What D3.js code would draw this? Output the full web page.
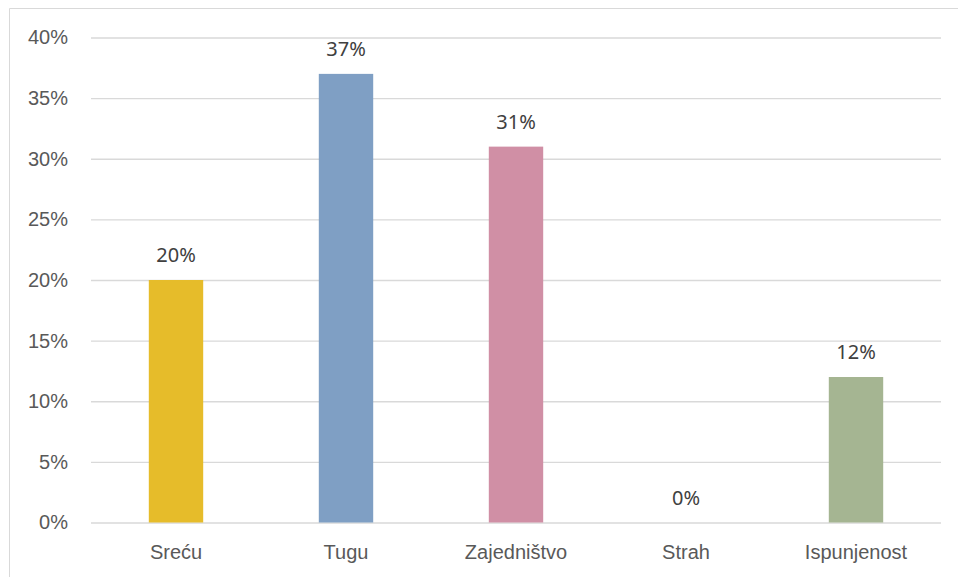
<!DOCTYPE html>
<html>
<head>
<meta charset="utf-8">
<script src="https://cdn.jsdelivr.net/npm/d3@7"></script>
<style>
  body { margin: 0; background: #fff; }
  svg { display: block; }
</style>
</head>
<body>
<div class="chart"></div>
<script>
// data
const categories = ["Sreću", "Tugu", "Zajedništvo", "Strah", "Ispunjenost"];
const values = [0.20, 0.37, 0.31, 0.00, 0.12];
const barColors = ["#E6BC2A", "#7F9FC4", "#D08FA5", "#A9A9A9", "#A5B592"];
const yTicks = [0, 0.05, 0.10, 0.15, 0.20, 0.25, 0.30, 0.35, 0.40];

const W = 958, H = 577;
const margin = {top: 37.5, right: 17, bottom: 54.5, left: 91};
const width = W - margin.left - margin.right,
      height = H - margin.top - margin.bottom;

const svg = d3.select(".chart").append("svg")
    .attr("width", W)
    .attr("height", H)
    .style("font-family", "'Noto Sans', 'Open Sans', sans-serif");

// outer frame (only top and left edges show in the picture)
svg.append("path")
    .attr("d", "M9.5," + H + "V8.5H" + W)
    .attr("fill", "none")
    .attr("stroke", "#d9d9d9")
    .attr("stroke-width", 1);

const g = svg.append("g")
    .attr("transform", "translate(" + margin.left + "," + margin.top + ")");

const x = d3.scaleBand()
    .domain(categories)
    .range([0, width])
    .paddingInner(0.68)
    .paddingOuter(0.34);

const y = d3.scaleLinear()
    .domain([0, 0.40])
    .range([height, 0]);

// gridlines + y labels
const yAxis = g.append("g")
    .call(d3.axisLeft(y)
      .tickValues(yTicks)
      .tickSize(-width)
      .tickPadding(23)
      .tickFormat(d3.format(".0%")));
yAxis.select(".domain").remove();
yAxis.selectAll(".tick line")
    .attr("stroke", "#d9d9d9")
    .attr("stroke-width", 1.3);
yAxis.selectAll(".tick text")
    .attr("fill", "#595959")
    .style("font-size", "20px");

// x labels
const xAxis = g.append("g")
    .attr("transform", "translate(0," + height + ")")
    .call(d3.axisBottom(x).tickSize(0).tickPadding(22));
xAxis.select(".domain").remove();
xAxis.selectAll(".tick text")
    .attr("fill", "#595959")
    .style("font-size", "20px");

// bars
g.selectAll("rect.bar")
    .data(values)
    .enter()
    .append("rect")
      .attr("class", "bar")
      .attr("x", (d, i) => x(categories[i]))
      .attr("y", d => y(d))
      .attr("width", x.bandwidth())
      .attr("height", d => height - y(d))
      .style("fill", (d, i) => barColors[i]);

// value labels
g.selectAll("text.val")
    .data(values)
    .enter()
    .append("text")
      .attr("class", "val")
      .attr("x", (d, i) => x(categories[i]) + x.bandwidth() / 2)
      .attr("y", d => y(d) - 18)
      .attr("text-anchor", "middle")
      .attr("fill", "#404040")
      .style("font-size", "20px")
      .text(d => d3.format(".0%")(d));
</script>
</body>
</html>
